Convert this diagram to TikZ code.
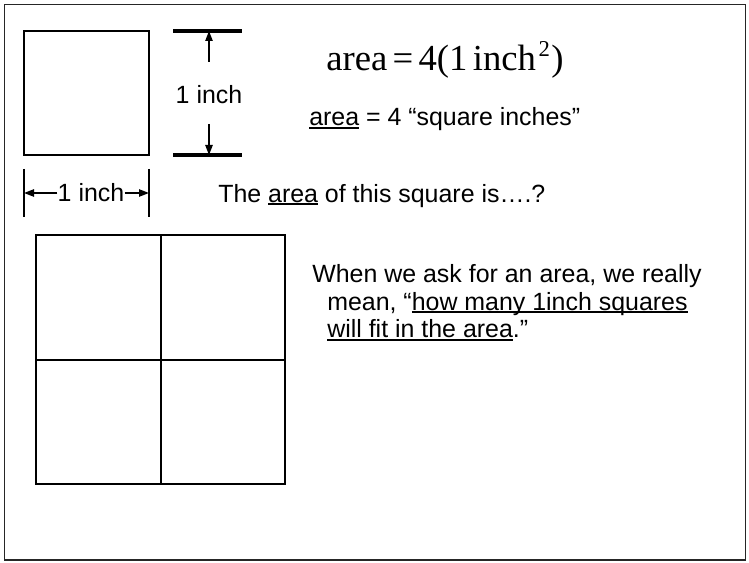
\documentclass[tikz,border=0pt]{standalone}
\usepackage{fontspec}
\setmainfont{Liberation Sans}
\newfontfamily\timesfont{Liberation Serif}
\usetikzlibrary{arrows.meta}

% underline at a fixed depth below the baseline
\newcommand*{\undl}[1]{\setbox0\hbox{#1}\rlap{\rule[-2.1pt]{\wd0}{1.1pt}}\box0\relax}

\begin{document}
\begin{tikzpicture}
[
	x=0.75pt,
	y=-0.75pt,
	txt/.style={inner sep=0pt,font=\fontsize{18.7}{20.8}\selectfont},
	box/.style={line width=1.5pt},
	dimbar/.style={line width=2.3pt},
	dimtick/.style={line width=1.1pt},
	dimarrow/.style={line width=1.1pt,-{Triangle[length=7.5pt,width=5.5pt]}}
]
	\useasboundingbox (0,0) rectangle (749,563);

	% frame
	\draw[line width=1.2pt,black!85] (4.5,4.5) rectangle (745.5,560);

	% one square inch
	\draw[box] (24,31) rectangle (149,155);

	% vertical dimension
	\draw[dimbar] (173,31) -- (242,31);
	\draw[dimbar] (173,155) -- (242,155);
	\coordinate (vtop) at (209,31);
	\coordinate (vbot) at (209,155);
	\coordinate (vup) at (209,62);
	\coordinate (vdown) at (209,124);
	\node[txt] (vlab) at (209,95) {1 inch};
	\draw[dimarrow] (vup) -- (vtop);
	\draw[dimarrow] (vdown) -- (vbot);

	% horizontal dimension
	\draw[dimtick] (24,169) -- (24,217);
	\draw[dimtick] (149,169) -- (149,217);
	\coordinate (hleft) at (24,193);
	\coordinate (hright) at (149,193);
	\node[txt] (hlab) at (91,193) {1 inch};
	\draw[dimarrow] (hlab.west) -- (hleft);
	\draw[dimarrow] (hlab.east) -- (hright);

	% four square inches
	\draw[box] (36,235) rectangle (285,484);
	\draw[box] (160.5,235) -- (160.5,484);
	\draw[box] (36,359.5) -- (285,359.5);

	% texts
	\node[txt,anchor=base west] (formula) at (326,71)
	  {\timesfont\fontsize{27.5}{27.5}\selectfont area\hspace{4pt}=\hspace{4pt}4(1\hspace{4pt}inch\hspace{2pt}\raisebox{0.85ex}{\fontsize{17}{17}\selectfont 2}\hspace{1pt})};
	\node[txt,anchor=base west] (sqin) at (309,126)
	  {\undl{area} = 4 “square inches”};
	\node[txt,anchor=base west] (question) at (218,202)
	  {The \undl{area} of this square is….?};
	\node[txt,anchor=north west,align=left] (meaning) at (312,264)
	  {When we ask for an area, we really\\
	   \hspace*{11.25pt}mean, “\undl{how many 1inch squares}\\
	   \hspace*{11.25pt}\undl{will fit in the area}.”};

\end{tikzpicture}
\end{document}
